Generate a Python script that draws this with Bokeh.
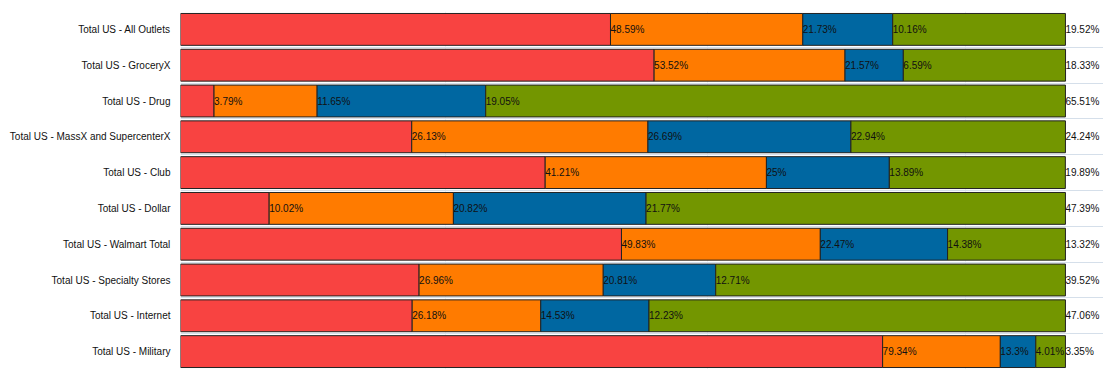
from bokeh.plotting import figure
from bokeh.models import ColumnDataSource, FactorRange, Range1d, FixedTicker, Grid
from bokeh.core.properties import value
from bokeh.embed import file_html
from bokeh.resources import INLINE

categories = [
    "Total US - All Outlets",
    "Total US - GroceryX",
    "Total US - Drug",
    "Total US - MassX and SupercenterX",
    "Total US - Club",
    "Total US - Dollar",
    "Total US - Walmart Total",
    "Total US - Specialty Stores",
    "Total US - Internet",
    "Total US - Military",
]
series1 = [48.59, 53.52, 3.79, 26.13, 41.21, 10.02, 49.83, 26.96, 26.18, 79.34]
series2 = [21.73, 21.57, 11.65, 26.69, 25, 20.82, 22.47, 20.81, 14.53, 13.3]
series3 = [10.16, 6.59, 19.05, 22.94, 13.89, 21.77, 14.38, 12.71, 12.23, 4.01]
series4 = [19.52, 18.33, 65.51, 24.24, 19.89, 47.39, 13.32, 39.52, 47.06, 3.35]
colors = ["#F84341", "#FF7B00", "#0067A1", "#739600"]

series = [series1, series2, series3, series4]
names = ["s1", "s2", "s3", "s4"]

src = ColumnDataSource(dict(cat=categories, s1=series1, s2=series2, s3=series3, s4=series4))

# label positions: at the end of each segment
lx, ly, lt = [], [], []
for i, c in enumerate(categories):
    acc = 0.0
    for s in series:
        acc += s[i]
        lx.append(acc)
        ly.append(c)
        lt.append(f"{s[i]:g}%")
lsrc = ColumnDataSource(dict(x=lx, y=ly, t=lt))

p = figure(
    width=1103, height=369,
    y_range=FactorRange(factors=list(reversed(categories))),
    x_range=Range1d(0, 104.3),
    output_backend="svg", toolbar_location=None,
    min_border_left=180, min_border_top=11, min_border_right=0, min_border_bottom=0,
)
p.outline_line_color = None

p.hbar_stack(names, y="cat", height=0.89, color=colors, line_color="#222222",
             line_width=1, source=src)

p.text(x="x", y="y", text="t", source=lsrc, text_font=value("Liberation Sans"),
       text_font_size="10px", text_baseline="middle", text_align="left",
       text_color="#111111", x_offset=0)

# grid
p.ygrid.visible = False
p.xgrid.ticker = FixedTicker(ticks=[30, 59.6, 88.7])
p.xgrid.grid_line_color = "#EEF2F7"
p.xgrid.level = "underlay"
bgrid = Grid(dimension=1, ticker=FixedTicker(ticks=[1, 2, 3, 4, 5, 6, 7, 8, 9]),
             grid_line_color="#D5DFEA", grid_line_width=1)
p.add_layout(bgrid)

# axes
p.yaxis.major_tick_line_color = None
p.yaxis.major_tick_out = 0
p.yaxis.major_tick_in = 0
p.yaxis.minor_tick_line_color = None
p.yaxis.axis_line_color = None
p.yaxis.major_label_standoff = 10
p.yaxis.major_label_text_font = "Liberation Sans"
p.yaxis.major_label_text_font_size = "10px"
p.yaxis.major_label_text_color = "#111111"

p.xaxis.major_tick_line_color = None
p.xaxis.minor_tick_line_color = None
p.xaxis.major_label_text_font_size = "0px"
p.xaxis.major_label_standoff = 0
p.xaxis.axis_line_color = "#B8B8B8"
p.xaxis.ticker = FixedTicker(ticks=[])

open("out.html", "w").write(file_html(p, INLINE))
